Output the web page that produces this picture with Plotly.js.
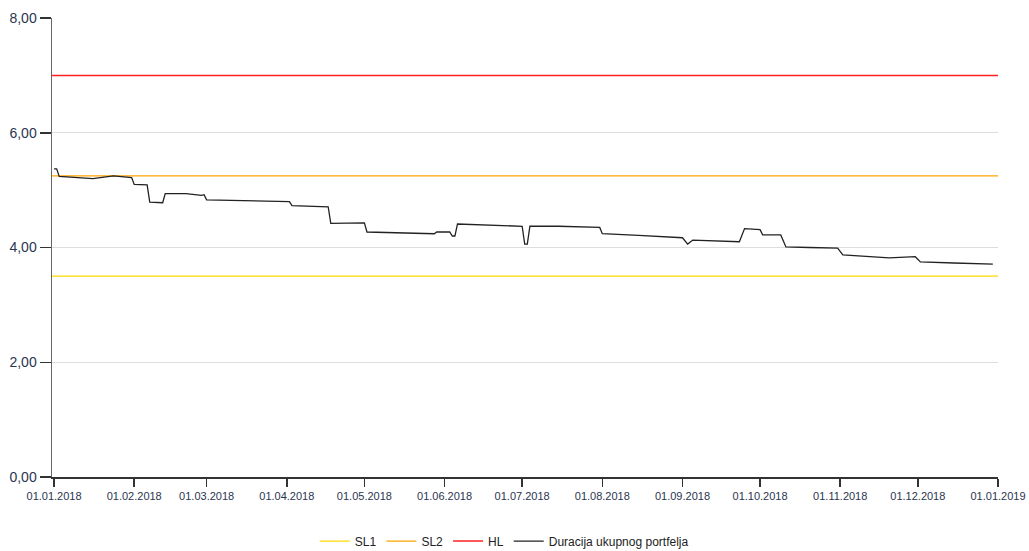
<!DOCTYPE html>
<html>
<head>
<meta charset="utf-8">
<script src="https://cdn.plot.ly/plotly-3.0.1.min.js"></script>
<style>html,body{margin:0;padding:0;background:#fff;}#chart{width:1029px;height:551px;}</style>
</head>
<body>
<div id="chart"></div>
<script>
// Portfolio duration series
const dates = ['2018-01-01','2018-01-02','2018-01-03','2018-01-10','2018-01-16','2018-01-24','2018-01-30','2018-01-31','2018-02-01','2018-02-06','2018-02-07','2018-02-12','2018-02-13','2018-02-21','2018-02-27','2018-02-28','2018-03-01','2018-03-15','2018-04-02','2018-04-03','2018-04-17','2018-04-18','2018-05-01','2018-05-02','2018-05-15','2018-05-28','2018-05-29','2018-06-03','2018-06-04','2018-06-05','2018-06-06','2018-06-20','2018-07-01','2018-07-02','2018-07-03','2018-07-04','2018-07-15','2018-07-31','2018-08-01','2018-08-15','2018-09-01','2018-09-03','2018-09-05','2018-09-23','2018-09-25','2018-10-01','2018-10-02','2018-10-09','2018-10-11','2018-10-20','2018-10-31','2018-11-02','2018-11-20','2018-11-30','2018-12-02','2018-12-15','2018-12-30'];
const duration = [5.37,5.37,5.24,5.22,5.20,5.25,5.23,5.22,5.10,5.09,4.79,4.78,4.94,4.94,4.91,4.92,4.83,4.82,4.80,4.73,4.71,4.42,4.43,4.27,4.26,4.24,4.27,4.27,4.20,4.20,4.41,4.39,4.37,4.06,4.06,4.37,4.37,4.35,4.24,4.21,4.17,4.06,4.13,4.10,4.33,4.31,4.22,4.22,4.01,4.00,3.99,3.87,3.82,3.84,3.75,3.73,3.71];

// Limit lines
const limitDates = ['2017-12-31 05:00','2019-01-01'];
const SL1 = 3.5, SL2 = 5.25, HL = 7.0;

// Tick positions on x axis
const tickDates = ['2018-01-01','2018-02-01','2018-03-01','2018-04-01','2018-05-01','2018-06-01','2018-07-01','2018-08-01','2018-09-01','2018-10-01','2018-11-01','2018-12-01','2019-01-01'];
const yTicks = [0,2,4,6,8];

const traces = [
  {x: limitDates, y: [SL1, SL1], name: 'SL1', mode: 'lines', line: {color: '#FFD700', width: 1.3}},
  {x: limitDates, y: [SL2, SL2], name: 'SL2', mode: 'lines', line: {color: '#FFA500', width: 1.3}},
  {x: limitDates, y: [HL, HL], name: 'HL', mode: 'lines', line: {color: '#FF2020', width: 1.5}},
  {x: dates, y: duration, name: 'Duracija ukupnog portfelja', mode: 'lines', line: {color: '#222', width: 1.3}}
];

const layout = {
  width: 1029, height: 551,
  margin: {l: 52, r: 31, t: 18, b: 74, autoexpand: false},
  paper_bgcolor: '#fff', plot_bgcolor: '#fff',
  separators: ',.',
  font: {family: 'Liberation Sans, Arial, sans-serif', color: '#2a3550'},
  showlegend: true,
  legend: {orientation: 'h', xref: 'container', yref: 'container', x: 0.49, xanchor: 'center', y: 0.018, yanchor: 'middle', font: {size: 12, color: '#222'}, itemwidth: 30},
  xaxis: {
    type: 'date', range: ['2017-12-31 05:00','2019-01-01 00:00'],
    tickvals: tickDates, tickformat: '%d.%m.%Y',
    showgrid: false, zeroline: false,
    showline: true, linecolor: '#333', linewidth: 1.5,
    ticks: 'outside', ticklen: 8, tickcolor: '#333', tickwidth: 1.5,
    tickfont: {size: 11, color: '#2a3550'}
  },
  yaxis: {
    range: [0, 8], tickvals: yTicks, tickformat: '.2f',
    showgrid: true, gridcolor: '#dddddd', gridwidth: 1, zeroline: false,
    showline: true, linecolor: '#666', linewidth: 1.5,
    ticks: 'outside', ticklen: 11, tickcolor: '#333', tickwidth: 1.5,
    tickfont: {size: 14, color: '#2a3550'}
  }
};

Plotly.newPlot('chart', traces, layout, {displayModeBar: false, staticPlot: true});
</script>
</body>
</html>
